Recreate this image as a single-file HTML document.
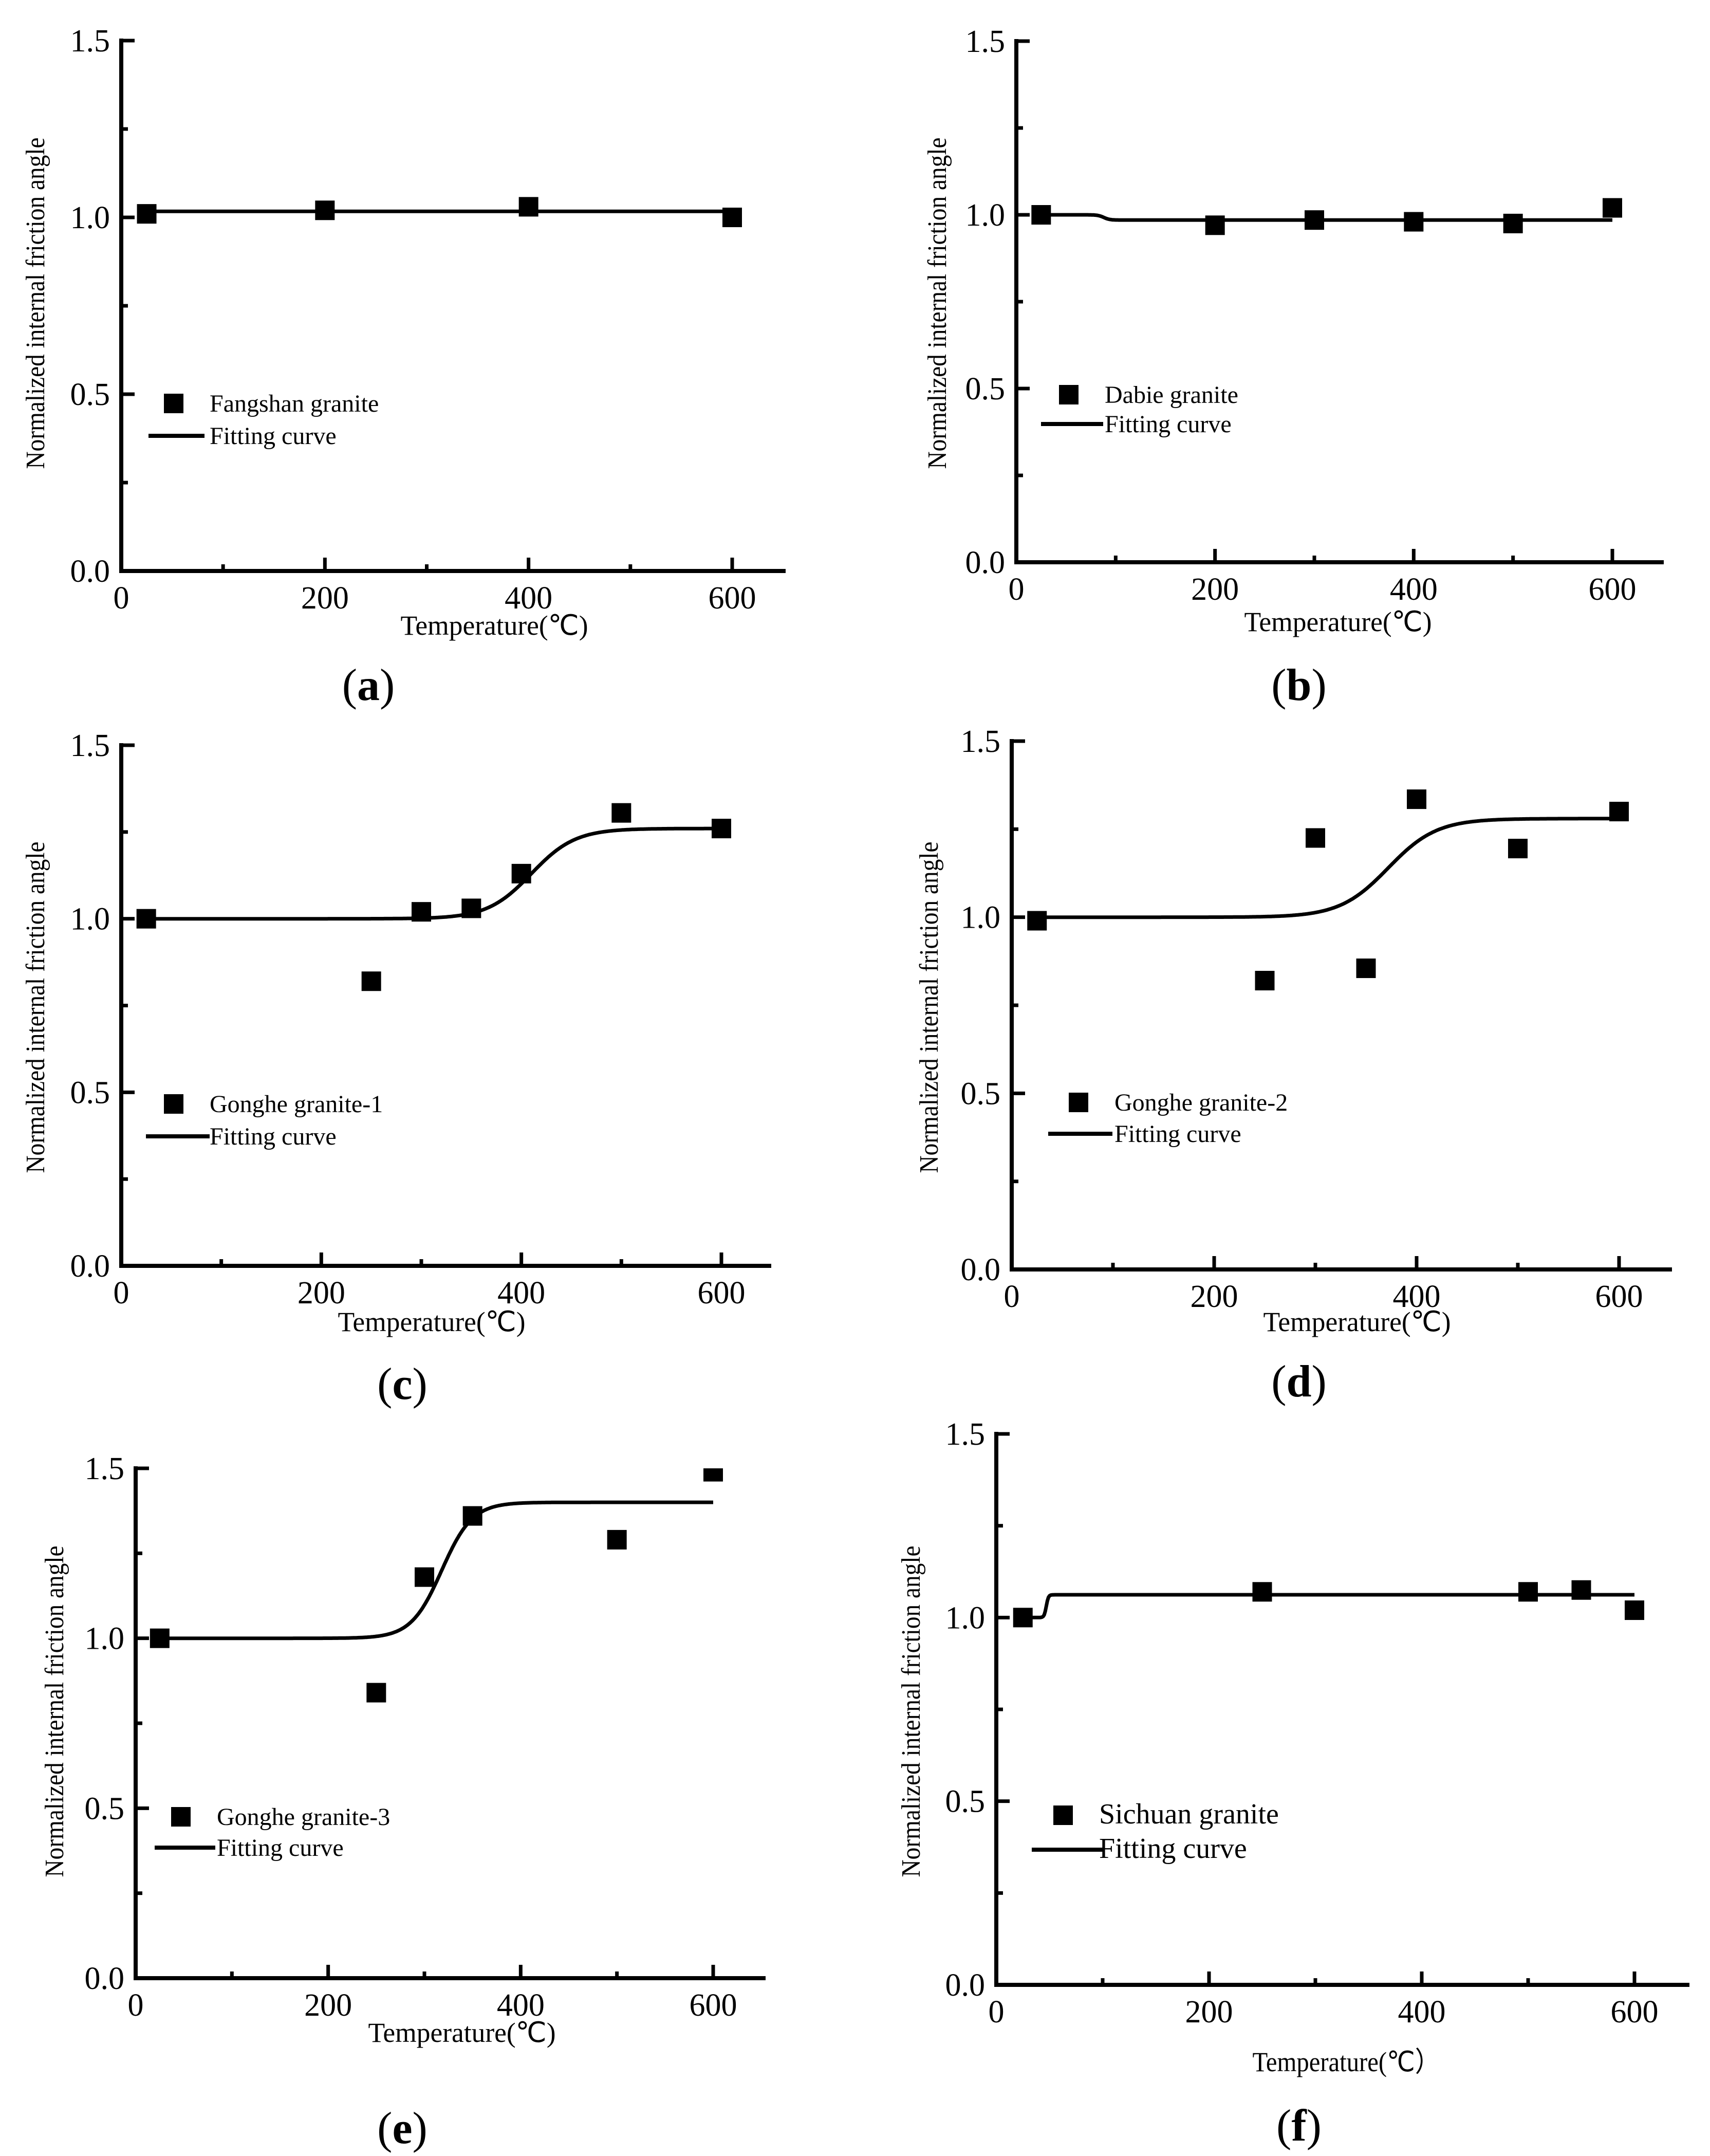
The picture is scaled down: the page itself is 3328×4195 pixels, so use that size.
<!DOCTYPE html>
<html><head><meta charset="utf-8"><style>
html,body{margin:0;padding:0;background:#fff;}
svg{display:block;font-family:"Liberation Serif","Times New Roman",serif;}
</style></head>
<body>
<svg id="fig" width="3328" height="4195" viewBox="0 0 3328 4195" xmlns="http://www.w3.org/2000/svg"></svg>
<script>
// ---- data ----
const xTickLabels = ["0","200","400","600"];
const yTickLabels = ["0.0","0.5","1.0","1.5"];
const seriesNames = ["Fangshan granite","Dabie granite","Gonghe granite-1","Gonghe granite-2","Gonghe granite-3","Sichuan granite"];
const panelLetters = ["a","b","c","d","e","f"];
const tempA = [25,200,400,600];
const valA  = [1.01,1.02,1.03,1.0];
const tempB = [25,200,300,400,500,600];
const valB  = [1.0,0.97,0.985,0.98,0.975,1.02];
const tempC = [25,250,300,350,400,500,600];
const valC  = [1.0,0.82,1.02,1.03,1.13,1.305,1.26];
const tempD = [25,250,300,350,400,500,600];
const valD  = [0.99,0.82,1.225,0.855,1.335,1.195,1.3];
const tempE = [25,250,300,350,500,600];
const valE  = [1.0,0.84,1.18,1.36,1.29,1.49];
const tempF = [25,250,500,550,600];
const valF  = [1.0,1.07,1.07,1.075,1.02];
// fitted curve parameters: [low, high, center temp, width]
const fitA = [1.017,1.017,300,10];
const fitB = [1.0,0.985,88,3];
const fitC = [1.0,1.26,410,22];
const fitD = [1.0,1.28,372,24];
const fitE = [1.0,1.4,318,16];
const fitF = [1.0,1.062,47,1];
const temps=[tempA,tempB,tempC,tempD,tempE,tempF];
const vals=[valA,valB,valC,valD,valE,valF];
const fits=[fitA,fitB,fitC,fitD,fitE,fitF];

// ---- layout ----
const L=[
 {x0:236,x6:1425,xe:1529,y0:1111,y15:79, yt:[86,590],xt:[962,1235],lg:[338,785,289,398,848],lab:[717,1362],lfs:48},
 {x0:1978,x6:3138,xe:3238,y0:1094,y15:80, yt:[1841,590],xt:[2604,1228],lg:[2080,768,2026,2147,825],lab:[2528,1362],lfs:48},
 {x0:236,x6:1404,xe:1501,y0:2463,y15:1450,yt:[86,1960],xt:[840,2590],lg:[338,2148,284,408,2211],lab:[783,2722],lfs:48},
 {x0:1969,x6:3151,xe:3254,y0:2470,y15:1442,yt:[1825,1960],xt:[2641,2590],lg:[2099,2145,2040,2165,2206],lab:[2528,2717],lfs:48},
 {x0:264,x6:1388,xe:1490,y0:3849,y15:2857,yt:[123,3330],xt:[899,3973],lg:[352,3535,301,419,3595],lab:[783,4170],lfs:48},
 {x0:1939,x6:3181,xe:3288,y0:3862,y15:2790,yt:[1790,3330],xt:[2620,4030],lg:[2069,3532,2008,2148,3599],lab:[2528,4165],lfs:56}
];
const NS="http://www.w3.org/2000/svg";
const svg=document.getElementById('fig');
function mk(tag,attrs,parent,txt){const e=document.createElementNS(NS,tag);for(const k in attrs)e.setAttribute(k,attrs[k]);if(txt!==undefined)e.textContent=txt;(parent||svg).appendChild(e);return e;}

L.forEach((p,i)=>{
  const g=mk('g',{});
  
  
  const sx=t=>p.x0+(p.x6-p.x0)*t/600;
  const sy=v=>p.y0-(p.y0-p.y15)*v/1.5;
  const cp=mk('clipPath',{id:'clip'+i},g);
  mk('rect',{x:p.x0,y:p.y15,width:p.xe-p.x0,height:p.y0-p.y15},cp);
  const ax=mk('path',{d:`M${p.x0} ${p.y15-4}V${p.y0}H${p.xe}`,fill:'none',stroke:'#000','stroke-width':8,'stroke-linejoin':'miter'},g);
  
  
  for(let k=0;k<=6;k++){
    const v=k*0.25, y=sy(v), len=k%2===0?26:13;
    mk('line',{x1:p.x0,x2:p.x0+len,y1:y,y2:y,stroke:'#000','stroke-width':7},g);
  }
  yTickLabels.forEach((t,k)=>{
    const tl=mk('text',{x:p.x0-22,y:sy(k*0.5)+21,'text-anchor':'end','font-size':62},g,t);
    
    
  });
  for(let k=1;k<=6;k++){
    const x=sx(k*100), len=k%2===0?26:13;
    mk('line',{x1:x,x2:x,y1:p.y0,y2:p.y0-len,stroke:'#000','stroke-width':7},g);
  }
  xTickLabels.forEach((t,k)=>{
    const tl=mk('text',{x:sx(k*200),y:p.y0+73,'text-anchor':'middle','font-size':62},g,t);
    
    
  });
  const yt=mk('text',{x:0,y:0,'text-anchor':'middle','font-size':52,textLength:645,lengthAdjust:'spacingAndGlyphs',transform:`translate(${p.yt[0]},${p.yt[1]}) rotate(-90)`},g,'Normalized internal friction angle');
  
  
  const xt=mk('text',{x:p.xt[0],y:p.xt[1],'text-anchor':'middle','font-size':54,textLength:365,lengthAdjust:'spacingAndGlyphs'},g,i===5?'Temperature(℃）':'Temperature(℃)');
  
  
  const f=fits[i]; let d='';
  const tStart=25, tEnd=600;
  for(let t=tStart;t<=tEnd;t+=1){
    const v=f[0]+(f[1]-f[0])/(1+Math.exp(-(t-f[2])/f[3]));
    d+=(t===tStart?'M':'L')+sx(t).toFixed(1)+' '+sy(v).toFixed(1);
  }
  const fl=mk('path',{d:d,fill:'none',stroke:'#000','stroke-width':7,'clip-path':`url(#clip${i})`},g);
  
  
  temps[i].forEach((t,k)=>{
    const r=mk('rect',{x:sx(t)-19,y:sy(vals[i][k])-19,width:38,height:38,fill:'#000','clip-path':`url(#clip${i})`},g);
    
    
  });
  const lg=p.lg;
  const lm=mk('rect',{x:lg[0]-19,y:lg[1]-19,width:38,height:38,fill:'#000'},g);
  
  
  const fs=p.lfs;
  const t1=mk('text',{x:lg[0]+70,y:lg[1]+16,'font-size':fs},g,seriesNames[i]);
  
  
  const ll=mk('line',{x1:lg[2],x2:lg[3],y1:lg[4],y2:lg[4],stroke:'#000','stroke-width':8},g);
  
  
  const t2=mk('text',{x:lg[0]+70,y:lg[4]+16,'font-size':fs},g,'Fitting curve');
  
  
  const pl=mk('text',{x:p.lab[0],y:p.lab[1],'text-anchor':'middle','font-size':88},g);
  
  
  mk('tspan',{},pl,'(');
  mk('tspan',{'font-weight':'bold'},pl,panelLetters[i]);
  mk('tspan',{},pl,')');
});
</script>
</body></html>
